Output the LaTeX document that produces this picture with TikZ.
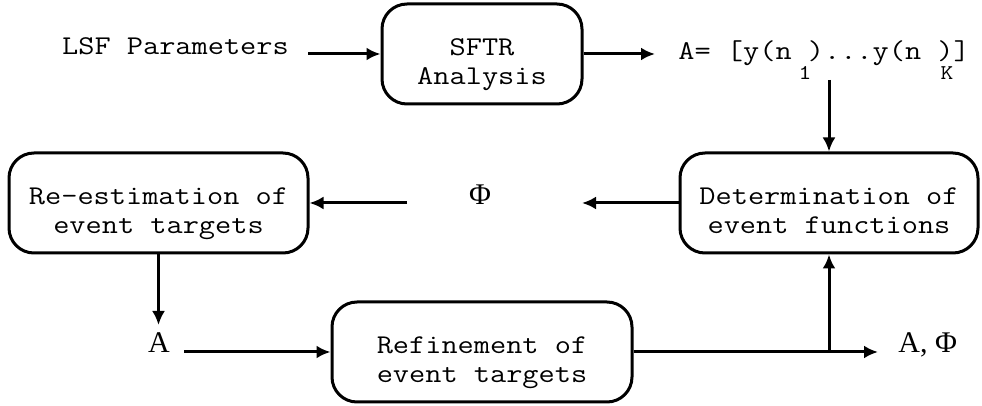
\documentclass[tikz,border=0pt]{standalone}
\usepackage{fontspec}
\setmainfont{Liberation Serif}
\newfontfamily\courfont{Latin Modern Mono}[FakeStretch=1.16]
\usetikzlibrary{arrows.meta}
\newcommand\monotxt{\courfont\fontsize{13.55}{14.5}\selectfont}
\newcommand\monosub{\courfont\fontsize{10.5}{12}\selectfont}
\newcommand\serftxt{\rmfamily\fontsize{15}{17}\selectfont}
\begin{document}
\begin{tikzpicture}[x=0.5pt,y=-0.5pt,
  box/.style={draw, line width=1.5pt, rounded corners=12.5pt, align=center,
    font=\monotxt, inner sep=0pt, text height=31pt, text depth=0pt,
    minimum height=50pt},
  lbl/.style={inner sep=0pt, anchor=base},
  arr/.style={line width=1.5pt, -{Latex[length=7pt,width=6.5pt]}}]
\useasboundingbox (0,0) rectangle (982,406);

% boxes
\node[box, minimum width=100pt] (sftr) at (482,54) {SFTR\\Analysis};
\node[box, minimum width=149.5pt] (re) at (158.5,203) {Re-estimation of\\event targets};
\node[box, minimum width=149pt] (det) at (829,203) {Determination of\\event functions};
\node[box, minimum width=150pt] (ref) at (482,352) {Refinement of\\event targets};

% texts
\node[lbl, font=\monotxt] (lsf) at (175.5,55) {LSF Parameters};
\node[lbl, anchor=base west, font=\monotxt, text depth=0pt] (aeq) at (678,60) {A= [y(n )...y(n )]};
\node[lbl, font=\monosub, text height=5pt] (s1) at (805,80) {1};
\node[lbl, font=\monosub, text height=5pt] (sk) at (947,80) {K};
\node[lbl, font=\serftxt] (phi) at (480,205) {Φ};
\node[lbl, font=\serftxt] (a) at (159,353) {A};
\node[lbl, anchor=base west, font=\serftxt] (aphi) at (898,353) {A, Φ};

% free ends
\coordinate (lsfout) at (308,54);
\coordinate (aeqin) at (655,54);
\coordinate (aeqout) at (829,80);
\coordinate (phiin) at (582,203);
\coordinate (phiout) at (407,203);
\coordinate (ain) at (158.5,325);
\coordinate (aout) at (184,352);
\coordinate (branch) at (829,352);
\coordinate (aphiin) at (878,352);

% connectors
\draw[arr] (lsfout) -- (sftr.west);
\draw[arr] (sftr.east) -- (aeqin);
\draw[arr] (aeqout) -- (det.north);
\draw[arr] (det.west) -- (phiin);
\draw[arr] (phiout) -- (re.east);
\draw[arr] (re.south) -- (ain);
\draw[arr] (aout) -- (ref.west);
\draw[arr] (ref.east) -- (aphiin);
\draw[arr] (branch) -- (det.south);
\end{tikzpicture}
\end{document}
